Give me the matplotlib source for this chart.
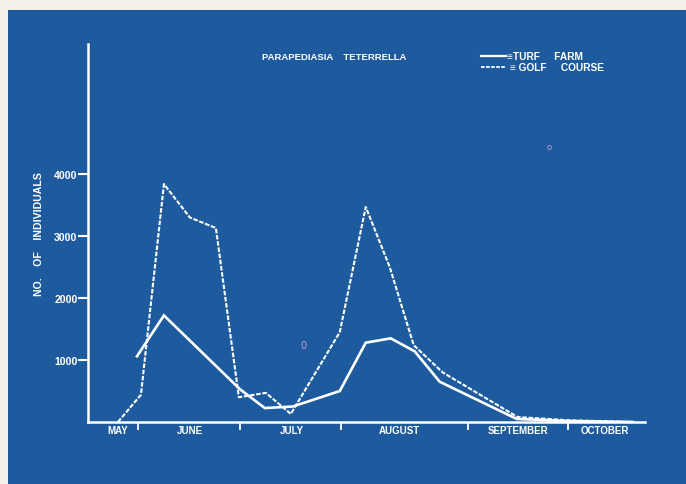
import matplotlib.pyplot as plt

# sampling positions in weeks from the start of May, counts of individuals
golf_x = [0, 0.92, 1.84, 2.88, 3.92, 4.84, 5.92, 6.92, 8.88, 9.92, 10.88, 11.84, 13.0, 16.0, 17.96, 20.6]
golf_y = [0, 440, 3840, 3300, 3130, 400, 470, 130, 1450, 3470, 2500, 1240, 800, 80, 30, 0]

turf_x = [0.76, 1.84, 4.88, 5.88, 7.0, 8.88, 9.92, 10.92, 11.88, 12.88, 15.96, 17.96, 20.6]
turf_y = [1060, 1720, 530, 225, 250, 500, 1280, 1350, 1140, 650, 50, 15, 0]

month_bounds = [0.8, 4.88, 8.92, 14.0, 18.0]
month_pos = [0, 2.88, 6.96, 11.28, 16.0, 19.48]
month_names = ['MAY', 'JUNE', 'JULY', 'AUGUST', 'SEPTEMBER', 'OCTOBER']
y_ticks = [1000, 2000, 3000, 4000]

blue = '#1e5b9e'
fnt = dict(family=['Liberation Sans', 'DejaVu Sans'], weight='bold', color='white')

fig = plt.figure(figsize=(6.86, 4.85), dpi=100)
fig.patch.set_facecolor('#f4f1ea')
fig.patches.append(plt.Rectangle((8/686, 0), 1, 1 - 11/485, transform=fig.transFigure,
                                 facecolor=blue, edgecolor='none', zorder=-10))

ax = fig.add_axes([88/686, 62/485, (645-88)/686, (423-45)/485])
ax.set_facecolor('none')
ax.plot(turf_x, turf_y, color='white', lw=1.9, solid_joinstyle='miter')
ax.plot(golf_x, golf_y, color='white', lw=1.5, dashes=(2.2, 0.8))

ax.set_xlim(-1.2, 21.1)
ax.set_ylim(0, 6100)
for s in ['top', 'right']:
    ax.spines[s].set_visible(False)
for s in ['left', 'bottom']:
    ax.spines[s].set_color('white')
    ax.spines[s].set_linewidth(1.8)

ax.set_yticks(y_ticks)
ax.set_yticklabels([str(v) for v in y_ticks], fontsize=7.6, **fnt)
ax.tick_params(axis='y', colors='white', length=7, width=1.5, pad=0.5)

ax.set_xticks(month_bounds)
ax.set_xticklabels([])
ax.tick_params(axis='x', colors='white', length=6, width=1.3, direction='out')
ax.set_xticks(month_pos, minor=True)
ax.set_xticklabels(month_names, minor=True, fontsize=7, **fnt)
ax.tick_params(axis='x', which='minor', length=0, pad=2)

ax.set_ylabel('NO.    OF    INDIVIDUALS', fontsize=7.6, labelpad=7, **fnt)

fig.text(262/686, 1 - 58/485, 'PARAPEDIASIA    TETERRELLA', fontsize=6.8, va='center', **fnt)
fig.lines.append(plt.Line2D([481/686, 506/686], [1 - 57/485] * 2, transform=fig.transFigure,
                            color='white', lw=1.6))
fig.lines.append(plt.Line2D([481/686, 506/686], [1 - 68/485] * 2, transform=fig.transFigure,
                            color='white', lw=1.3, dashes=(2, 0.8)))
fig.text(507/686, 1 - 57/485, '\u2261TURF     FARM', fontsize=7.3, va='center', **fnt)
fig.text(507/686, 1 - 68/485, ' \u2261 GOLF     COURSE', fontsize=7.3, va='center', **fnt)

# stray pink marks on the slide
fig.text(303/686, 1 - 346/485, '0', fontsize=7, color='#c898c8', ha='center', va='center')
fig.text(549/686, 1 - 147/485, 'o', fontsize=6, color='#c898c8', ha='center', va='center')

fig.savefig('out.png', dpi=100, facecolor=fig.get_facecolor())
